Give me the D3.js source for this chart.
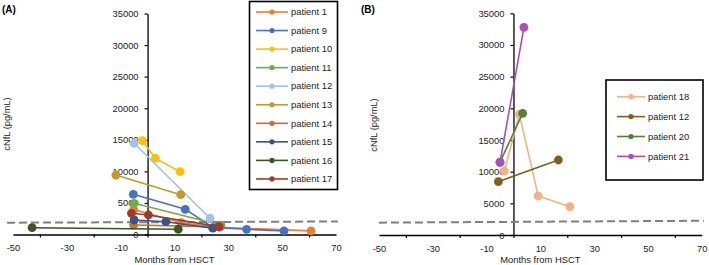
<!DOCTYPE html>
<html>
<head>
<meta charset="utf-8">
<script src="https://cdn.jsdelivr.net/npm/d3@7"></script>
<style>
  body { margin: 0; background: #fff; }
  svg { display: block; font-family: "Liberation Sans", Arial, sans-serif; }
</style>
</head>
<body>
<svg id="chart" width="709" height="265"></svg>
<script>
// axis values
const xLabelValues = [-50, -30, -10, 10, 30, 50, 70];
const xTickValues = [-40, -20, 0, 20, 40, 60];
const yTickValues = [0, 5000, 10000, 15000, 20000, 25000, 30000, 35000];

// panel A
const namesA = ["patient 1", "patient 9", "patient 10", "patient 11", "patient 12",
                "patient 13", "patient 14", "patient 15", "patient 16", "patient 17"];
const colorsA = ["#ED7D31", "#4472C4", "#FFC000", "#70AD47", "#9DC3E6",
                 "#C49A22", "#D4692C", "#2F5597", "#375623", "#9E3B26"];
const monthsA = [
  [-5.2, 12.5, 26.6, 60.7],
  [-5.3, 14.0, 24.4, 36.8, 50.7],
  [-1.9, 2.9, 12.1],
  [-5.0, 27.2],
  [-5.0, 23.2],
  [-11.8, 12.3],
  [-5.2, 27.0],
  [-5.0, 6.8, 24.2],
  [-42.9, 11.4],
  [-6.0, 0.3, 26.5]
];
const nflA = [
  [3950, 1870, 1150, 580],
  [6370, 3990, 1100, 820, 560],
  [14860, 12060, 9950],
  [4940, 1500],
  [14450, 2570],
  [9420, 6300],
  [1500, 1200],
  [2300, 2030, 1000],
  [1080, 830],
  [3360, 3090, 1250]
];

// panel B
const namesB = ["patient 18", "patient 12", "patient 20", "patient 21"];
const colorsB = ["#F4B183", "#7F6020", "#548235", "#B14BB8"];
const monthsB = [
  [-3.4, 2.2, 9.2, 21.0],
  [-5.6, 16.7],
  [-5.0, 3.4],
  [-5.0, 3.9]
];
const nflB = [
  [10100, 19050, 6160, 4470],
  [8420, 11840],
  [11500, 19210],
  [11480, 32790]
];

// dashed cut-off line, [month, value] at both ends
const cutoffA = [[-52.2, 1870], [70.7, 2060]];
const cutoffB = [[-50, 1950], [70.8, 2250]];

const svg = d3.select("#chart");
const plain = d => String(d); // hyphen minus, no thousands separator

function drawPanel(cfg) {
  let g = svg.append("g");

  let x = d3.scaleLinear().domain([-50, 70]).range([cfg.x0, cfg.x1]);
  let y = d3.scaleLinear().domain([0, 35000]).range([cfg.y0, cfg.y1]);

  // x axis: tick marks and labels sit at different values
  g.append("g")
    .attr("transform", `translate(0,${y(0)})`)
    .call(d3.axisBottom(x).tickValues(xTickValues).tickSize(3).tickSizeOuter(0).tickFormat(""))
    .call(a => a.select(".domain").attr("stroke", "#000").attr("stroke-width", 1.3))
    .call(a => a.selectAll(".tick line").attr("stroke", "#000").attr("stroke-width", 1.2));

  g.append("g")
    .attr("transform", `translate(0,${y(0)})`)
    .call(d3.axisBottom(x).tickValues(xLabelValues).tickSize(0).tickPadding(10).tickFormat(plain))
    .call(a => a.select(".domain").remove())
    .call(a => a.selectAll("text").attr("font-size", 9.4).attr("fill", "#222")
      .attr("font-family", "Liberation Sans, Arial, sans-serif"));

  // y axis at month 0
  g.append("g")
    .attr("transform", `translate(${x(0)},0)`)
    .call(d3.axisLeft(y).tickValues(yTickValues).tickSize(3).tickSizeOuter(0).tickPadding(6).tickFormat(plain))
    .call(a => a.select(".domain").attr("stroke", "#000").attr("stroke-width", 1.3))
    .call(a => a.selectAll(".tick line").attr("stroke", "#000").attr("stroke-width", 1.2))
    .call(a => a.selectAll("text").attr("font-size", 9.4).attr("fill", "#222")
      .attr("font-family", "Liberation Sans, Arial, sans-serif"));

  // cut-off
  g.append("line")
    .attr("x1", x(cfg.cutoff[0][0])).attr("y1", y(cfg.cutoff[0][1]))
    .attr("x2", x(cfg.cutoff[1][0])).attr("y2", y(cfg.cutoff[1][1]))
    .attr("stroke", "#808080").attr("stroke-width", 2)
    .attr("stroke-dasharray", "8,4");

  let line = d3.line().x(d => x(d[0])).y(d => y(d[1]));

  cfg.names.forEach((name, i) => {
    let pts = cfg.months[i].map((m, j) => [m, cfg.values[i][j]]);
    g.append("path")
      .datum(pts)
      .attr("d", line)
      .attr("fill", "none")
      .attr("stroke", cfg.colors[i])
      .attr("stroke-width", 1.6);
    g.selectAll(null)
      .data(pts)
      .join("circle")
      .attr("cx", d => x(d[0]))
      .attr("cy", d => y(d[1]))
      .attr("r", 4.4)
      .attr("fill", cfg.colors[i]);
  });

  // axis titles
  g.append("text")
    .attr("x", (cfg.x0 + cfg.x1) / 2)
    .attr("y", 263)
    .attr("text-anchor", "middle")
    .attr("font-size", 9.4)
    .attr("fill", "#222")
    .text("Months from HSCT");

  g.append("text")
    .attr("transform", `translate(${cfg.yTitleX},${cfg.yTitleY}) rotate(-90)`)
    .attr("text-anchor", "middle")
    .attr("font-size", 9.3)
    .attr("fill", "#222")
    .text("cNfL (pg/mL)");

  g.append("text")
    .attr("x", cfg.labelX)
    .attr("y", 13)
    .attr("font-size", 10)
    .attr("font-weight", "bold")
    .text(cfg.label);

  // legend
  let lg = cfg.legend;
  g.append("rect")
    .attr("x", lg.x).attr("y", lg.y)
    .attr("width", lg.w).attr("height", lg.h)
    .attr("fill", "#fff")
    .attr("stroke", "#000")
    .attr("stroke-width", 1.6);

  cfg.names.forEach((name, i) => {
    let ry = lg.firstRow + i * lg.step;
    g.append("line")
      .attr("x1", lg.sx).attr("x2", lg.sx + lg.sw)
      .attr("y1", ry).attr("y2", ry)
      .attr("stroke", cfg.colors[i]).attr("stroke-width", 1.6);
    g.append("circle")
      .attr("cx", lg.sx + lg.sw / 2).attr("cy", ry)
      .attr("r", 2.6).attr("fill", cfg.colors[i]);
    g.append("text")
      .attr("x", lg.sx + lg.sw + 3)
      .attr("y", ry)
      .attr("dy", "0.35em")
      .attr("font-size", 9.4)
      .attr("fill", "#222")
      .text(name);
  });
}

drawPanel({
  label: "(A)", labelX: 2,
  x0: 13, x1: 336, y0: 234.5, y1: 13.5,
  names: namesA, colors: colorsA, months: monthsA, values: nflA,
  cutoff: cutoffA,
  yTitleX: 9.5, yTitleY: 124,
  legend: { x: 249.5, y: 1.5, w: 88, h: 188, sx: 256, sw: 32, firstRow: 12, step: 18.55 }
});

drawPanel({
  label: "(B)", labelX: 361,
  x0: 379, x1: 701.7, y0: 235, y1: 13.3,
  names: namesB, colors: colorsB, months: monthsB, values: nflB,
  cutoff: cutoffB,
  yTitleX: 376.5, yTitleY: 125,
  legend: { x: 606, y: 80, w: 97, h: 100, sx: 617, sw: 28, firstRow: 96.7, step: 19.9 }
});
</script>
</body>
</html>
